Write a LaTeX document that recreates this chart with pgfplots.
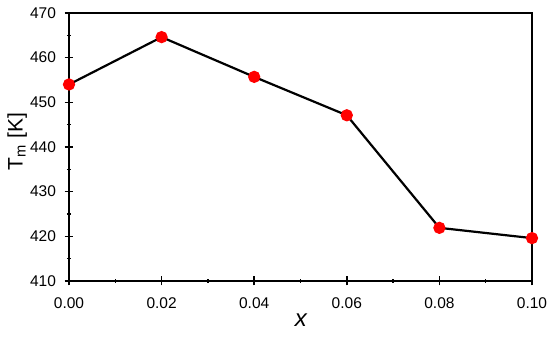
\documentclass[border=0pt]{standalone}
\usepackage{fontspec}
\setmainfont{Liberation Sans}
\usepackage{pgfplots}
\pgfplotsset{compat=1.18}
\begin{document}
\begin{tikzpicture}
\begin{axis}[
  scale only axis,
  width=463pt, height=268pt,
  xmin=0, xmax=0.1, ymin=410, ymax=470,
  xtick={0,0.02,0.04,0.06,0.08,0.1},
  ytick={410,420,...,470},
  minor x tick num=1, minor y tick num=1,
  tick align=center,
  major tick length=9pt, minor tick length=4pt,
  xtick pos=bottom, ytick pos=left,
  axis line style={line width=2pt},
  every tick/.style={black, line width=1.5pt},
  tick label style={font=\fontsize{15.5}{17}\selectfont},
  /pgf/number format/assume math mode=true,
  xticklabel style={yshift=-9pt, /pgf/number format/.cd, fixed, fixed zerofill, precision=2},
  yticklabel style={xshift=-5pt, /pgf/number format/.cd, fixed, precision=0},
  xlabel={\fontsize{24}{26}\selectfont\itshape x},
  ylabel={\fontsize{21}{23}\selectfont T\textsubscript{m} [K]},
  xlabel style={at={(axis description cs:0.501,-0.146)}, anchor=center},
  ylabel style={at={(axis description cs:-0.112,0.52)}, anchor=center},
  clip=false,
]
\addplot[black, line width=2.2pt, mark=*, mark size=5pt, mark options={fill=red, draw=red}]
coordinates {(0,454.0) (0.02,464.6) (0.04,455.7) (0.06,447.1) (0.08,421.9) (0.1,419.6)};
\end{axis}
\pgfresetboundingbox
\path ([shift={(-69pt,-59pt)}]current axis.south west) rectangle ([shift={(18pt,13pt)}]current axis.north east);
\end{tikzpicture}
\end{document}
